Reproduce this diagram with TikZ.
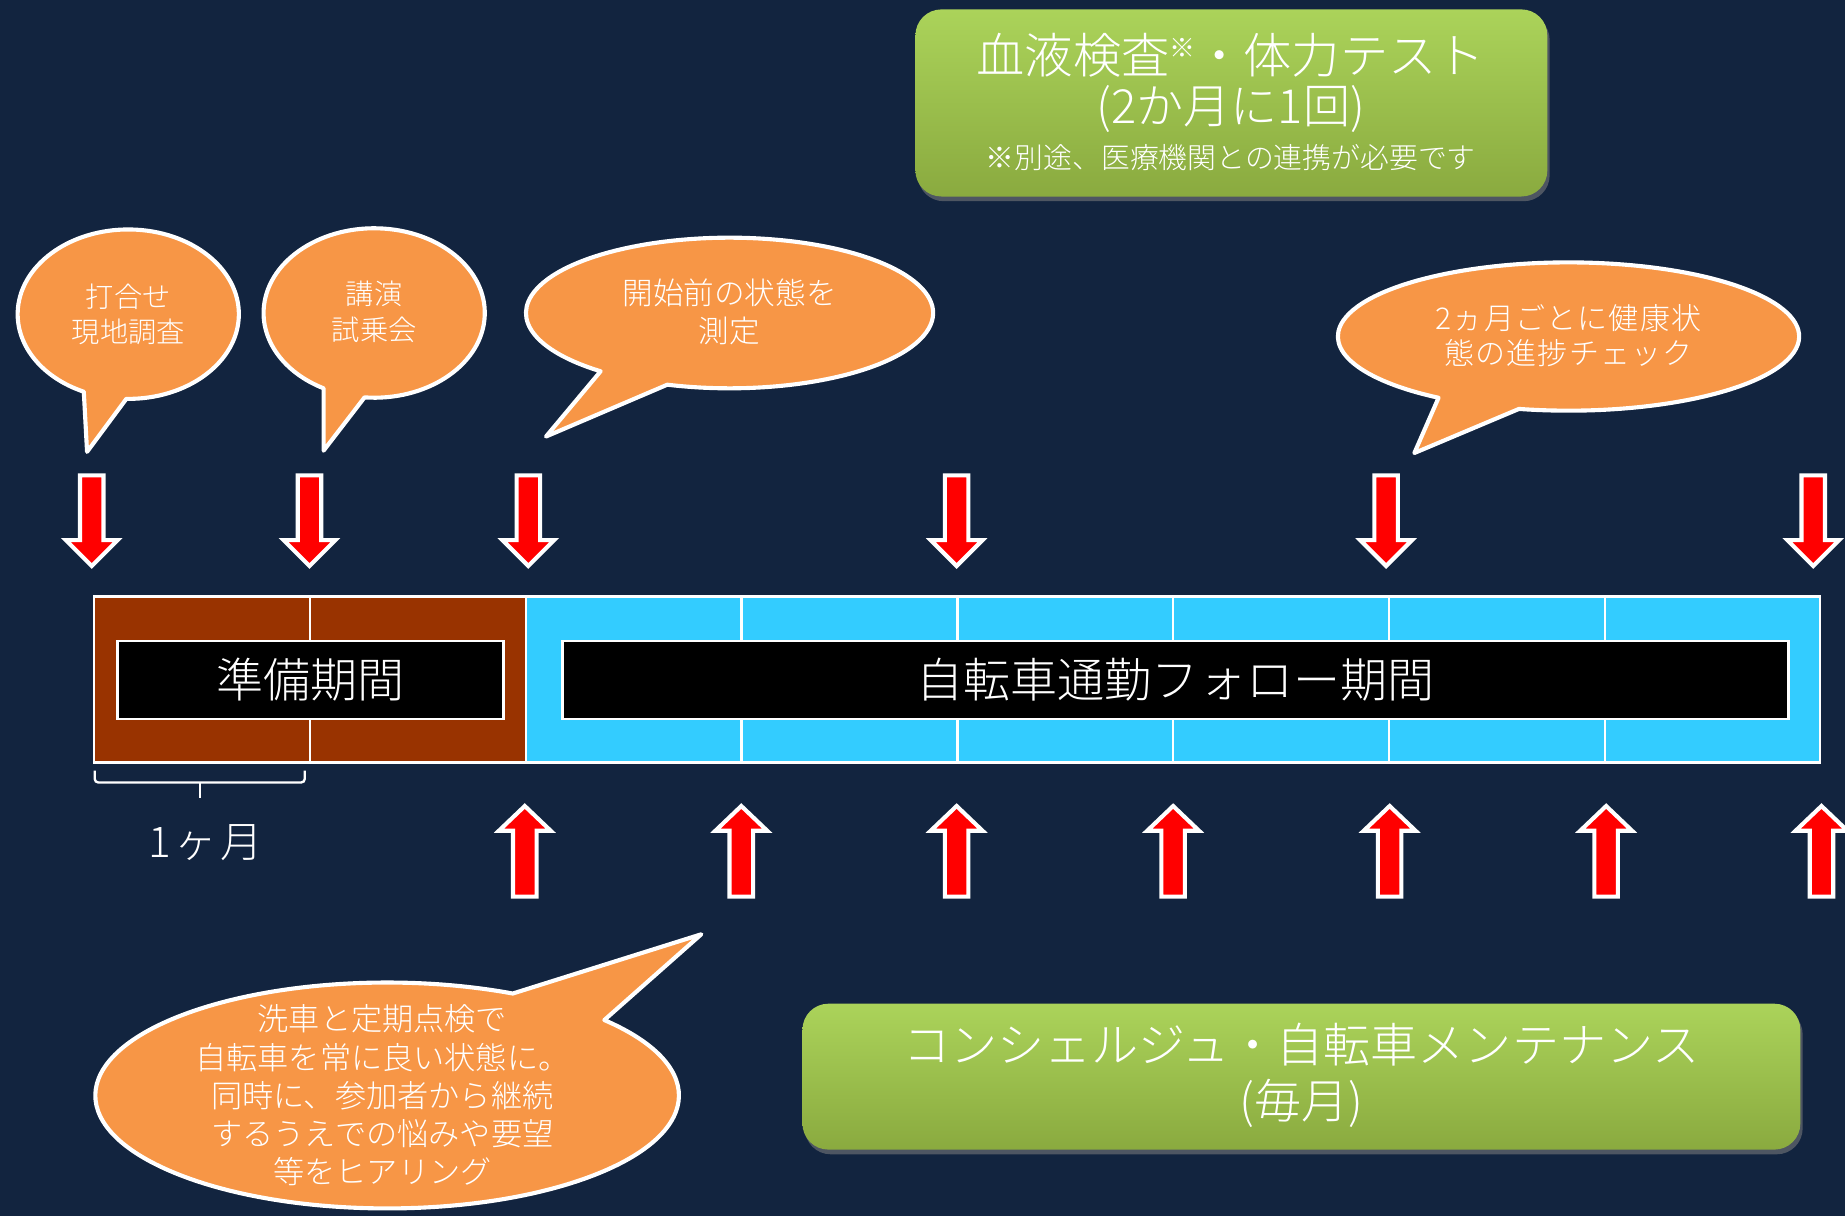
\documentclass[tikz,border=0pt]{standalone}
\usepackage{fontspec}
\setmainfont{Noto Sans CJK JP}[UprightFont=* Light]
\usetikzlibrary{shadows}
\definecolor{bgnavy}{HTML}{12243F}
\definecolor{bubbleorange}{HTML}{F79646}
\definecolor{prepbrown}{HTML}{993300}
\definecolor{followcyan}{HTML}{33CCFF}
\definecolor{greentop}{HTML}{ABD35A}
\definecolor{greenbot}{HTML}{8AAA3F}
\begin{document}
\begin{tikzpicture}[x=1pt,y=-1pt,
  every node/.style={text=white, inner sep=0pt},
  bubbleshape/.style={fill=bubbleorange, draw=white, line width=3.5pt, line join=round},
  bubbletext/.style={align=center},
  greenbox/.style={rectangle, rounded corners=22pt, top color=greentop, bottom color=greenbot,
      draw=none, drop shadow={opacity=0.55, shadow xshift=2pt, shadow yshift=-4pt}},
  periodbox/.style={rectangle, fill=black, draw=white, line width=2pt, minimum height=66pt,
      font=\fontsize{40}{40}\selectfont},
  redarrow/.style={fill=red, draw=white, line width=3.5pt, line join=miter},
  divider/.style={draw=white, line width=2pt}
]
% background
\fill[bgnavy] (0,0) rectangle (1568,1033);
\path[use as bounding box] (0,0) rectangle (1568,1033);

% top green box
\node[greenbox, minimum width=537pt, minimum height=159pt] (bloodbox) at (1046.5,87.5) {};
\node[font=\fontsize{41}{41}\selectfont] (bloodt1) at (1046,47)
  {血液検査{\fontsize{22}{22}\selectfont\raisebox{14pt}[0pt][0pt]{※}}・体力テスト};
\node[font=\fontsize{40}{40}\selectfont] (bloodt2) at (1046,93) {(2か月に1回)};
\node[font=\fontsize{24.5}{24.5}\selectfont] (bloodt3) at (1046,134) {※別途、医療機関との連携が必要です};

% bubble 1
\draw[bubbleshape] (109,267) ++(91:94 and 72)
  arc[start angle=91, end angle=-246.3, x radius=94, y radius=72] -- (74,384) -- cycle;
\node[bubbletext, font=\fontsize{24}{30}\selectfont] (meet) at (109,267) {打合せ\\現地調査};

% bubble 2
\draw[bubbleshape] (318,266) ++(95:94 and 72)
  arc[start angle=95, end angle=-242.8, x radius=94, y radius=72] -- (275,383) -- cycle;
\node[bubbletext, font=\fontsize{24}{30}\selectfont] (lecture) at (318,265) {講演\\試乗会};

% bubble 3
\draw[bubbleshape] (620,266) ++(107.8:173 and 64)
  arc[start angle=107.8, end angle=-230.7, x radius=173, y radius=64] -- (464,371) -- cycle;
\node[bubbletext, font=\fontsize{26}{33}\selectfont] (measure) at (620,265) {開始前の状態を\\測定};

% bubble 4
\draw[bubbleshape] (1333,286) ++(102.4:196 and 63)
  arc[start angle=102.4, end angle=-235.7, x radius=196, y radius=63] -- (1202,385) -- cycle;
\node[bubbletext, font=\fontsize{25.5}{30}\selectfont\addfontfeature{LetterSpace=4}] (check) at (1333,285) {2ヵ月ごとに健康状\\態の進捗チェック};

% bubble 5
\draw[bubbleshape] (329,931) ++(-41.9:248 and 96)
  arc[start angle=-41.9, end angle=295.5, x radius=248, y radius=96] -- (596,794) -- cycle;
\node[bubbletext, font=\fontsize{26.5}{32.5}\selectfont] (hearing) at (325,931)
  {洗車と定期点検で\\自転車を常に良い状態に。\\同時に、参加者から継続\\するうえでの悩みや要望\\等をヒアリング};

% down arrows
\foreach \x in {78,263,449,813,1178,1541}{
  \filldraw[redarrow] ({\x-10},404) -- ({\x+10},404) -- ({\x+10},459) -- ({\x+22},459)
    -- (\x,481) -- ({\x-22},459) -- ({\x-10},459) -- cycle;
}

% timeline bar
\fill[prepbrown] (80,507) rectangle (446.8,648);
\fill[followcyan] (446.8,507) rectangle (1547,648);
\foreach \x in {263.4,446.8,630.2,813.6,997,1180.4,1363.8}{
  \draw[divider] (\x,507) -- (\x,648);
}
\draw[divider] (80,507) rectangle (1547,648);
\node[periodbox, minimum width=328pt] (prep) at (264,578) {準備期間};
\node[periodbox, minimum width=1042pt] (follow) at (999,578) {自転車通勤フォロー期間};

% bracket
\draw[white, line width=2pt, rounded corners=3pt] (80.5,655) -- (80.5,665) -- (259,665) -- (259,655);
\draw[white, line width=2pt] (170,665) -- (170,678);
\node[font=\fontsize{36}{36}\selectfont] (month) at (175,716) {1\hspace{3pt}ヶ\hspace{3pt}月};

% up arrows
\foreach \x in {446,630,813,997,1181,1365,1548}{
  \filldraw[redarrow] (\x,685) -- ({\x+22},706) -- ({\x+10},706) -- ({\x+10},762)
    -- ({\x-10},762) -- ({\x-10},706) -- ({\x-22},706) -- cycle;
}

% bottom green box
\node[greenbox, minimum width=848pt, minimum height=124pt] (maintbox) at (1106,915) {};
\node[font=\fontsize{40}{40}\selectfont] (maintt1) at (1106,888) {コンシェルジュ・自転車メンテナンス};
\node[font=\fontsize{40}{40}\selectfont] (maintt2) at (1106,938) {(毎月)};
\end{tikzpicture}
\end{document}
